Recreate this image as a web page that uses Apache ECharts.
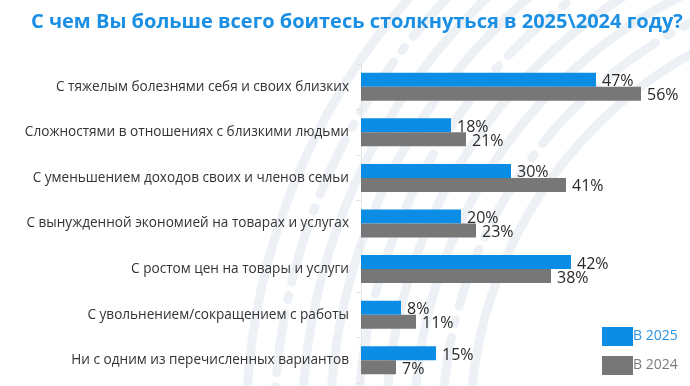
<!DOCTYPE html>
<html><head><meta charset="utf-8">
<script src="https://cdn.jsdelivr.net/npm/echarts@6/dist/echarts.min.js"></script>
<style>html,body{margin:0;padding:0;background:#fff}#c{width:690px;height:386px}</style>
</head><body><div id="c"></div>
<script>
const categories = [
  "С тяжелым болезнями себя и своих близких",
  "Сложностями в отношениях с близкими людьми",
  "С уменьшением доходов своих и членов семьи",
  "С вынужденной экономией на товарах и услугах",
  "С ростом цен на товары и услуги",
  "С увольнением/сокращением с работы",
  "Ни с одним из перечисленных вариантов"
];
const values2025 = [47, 18, 30, 20, 42, 8, 15];
const values2024 = [56, 21, 41, 23, 38, 11, 7];
const seriesNames = ["В 2025", "В 2024"];
const titleText = "С чем Вы больше всего боитесь столкнуться в 2025\\2024 году?";

const BLUE = '#0b8de6', GREY = '#777777';
const chart = echarts.init(document.getElementById('c'), null, {renderer: 'canvas'});

const arcs = [];
const radii = [430, 458, 486, 514, 542, 570, 598, 626, 654];
radii.forEach((r, i) => {
  arcs.push({
    type: 'circle', silent: true, z: -10,
    shape: {cx: 900, cy: 430, r: r},
    style: {fill: 'none', stroke: 'rgba(214,224,236,0.45)', lineWidth: 9,
      lineDash: i % 3 === 1 ? [60, 14, 4, 14] : null, lineCap: 'round'}
  });
});

const font = '"Open Sans", "Noto Sans", sans-serif';
chart.setOption({
  animation: false,
  backgroundColor: '#fff',
  title: {
    text: titleText, left: 26, top: 7,
    textStyle: {color: '#1a8fe3', fontSize: 20, fontWeight: 'bold', fontFamily: font}
  },
  graphic: arcs,
  legend: {
    orient: 'vertical', left: 597, top: 322, itemWidth: 31, itemHeight: 19, itemGap: 10,
    icon: 'rect', selectedMode: false,
    textStyle: {fontSize: 14, fontFamily: font, padding: [0, 0, 0, -5]},
    data: [
      {name: seriesNames[0], textStyle: {color: '#2a93e4'}},
      {name: seriesNames[1], textStyle: {color: '#7a7a7a'}}
    ]
  },
  grid: {left: 361, top: 64, width: 325, height: 319},
  xAxis: {type: 'value', min: 0, max: 65, show: false},
  yAxis: {
    type: 'category', data: categories, inverse: true,
    axisLine: {show: true, lineStyle: {color: '#e3e3e3'}},
    axisTick: {show: true, length: 5, lineStyle: {color: '#e3e3e3'}},
    axisLabel: {color: '#333', fontSize: 13.6, fontFamily: font, margin: 12}
  },
  series: [
    {
      name: seriesNames[0], type: 'bar', data: values2025, barWidth: 14, barGap: '0%',
      itemStyle: {color: BLUE},
      label: {show: true, position: 'right', distance: 6, offset: [0, 2], formatter: '{c}%',
        color: '#2a2a2a', fontSize: 16, fontFamily: font}
    },
    {
      name: seriesNames[1], type: 'bar', data: values2024, barWidth: 14, barGap: '0%',
      itemStyle: {color: GREY},
      label: {show: true, position: 'right', distance: 6, offset: [0, 2], formatter: '{c}%',
        color: '#2a2a2a', fontSize: 16, fontFamily: font}
    }
  ]
});
</script></body></html>
